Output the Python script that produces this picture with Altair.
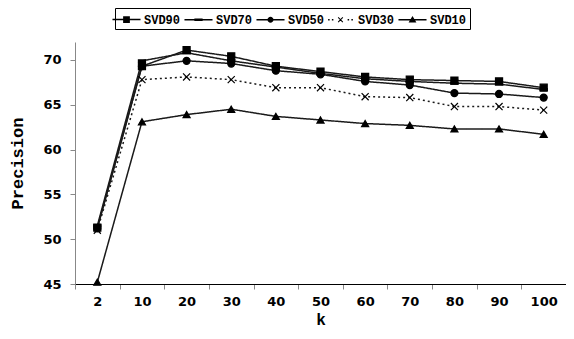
import altair as alt
import pandas as pd

k_labels = ["2", "10", "20", "30", "40", "50", "60", "70", "80", "90", "100"]
series_names = ["SVD90", "SVD70", "SVD50", "SVD30", "SVD10"]
svd90 = [51.3, 69.3, 71.1, 70.4, 69.3, 68.7, 68.1, 67.8, 67.7, 67.6, 66.9]
svd70 = [51.5, 69.9, 70.8, 69.9, 69.2, 68.5, 67.9, 67.6, 67.4, 67.3, 66.7]
svd50 = [51.2, 69.3, 69.9, 69.6, 68.8, 68.4, 67.6, 67.2, 66.3, 66.2, 65.8]
svd30 = [51.0, 67.8, 68.1, 67.8, 66.9, 66.9, 65.9, 65.8, 64.8, 64.8, 64.4]
svd10 = [45.2, 63.1, 63.9, 64.5, 63.7, 63.3, 62.9, 62.7, 62.3, 62.3, 61.7]

rows = []
for name, vals in zip(series_names, [svd90, svd70, svd50, svd30, svd10]):
    for kk, v in zip(k_labels, vals):
        rows.append({"k": kk, "Precision": v, "series": name, "series_pt": name})
df = pd.DataFrame(rows)

MONO = "Liberation Mono, Courier New, Courier, monospace"

# plot marker shapes
plot_shapes = [
    "square",
    "M-1,-0.25H1V0.25H-1Z",
    "circle",
    "M-1,-1L1,1M-1,1L1,-1",
    "triangle-up",
]
# legend symbols (fill only): line + marker, unit = 7.5px, line spans 28px
LINE = "M-1.87,-0.1H1.87V0.1H-1.87Z"
legend_shapes = [
    LINE + "M-0.45,-0.45H0.45V0.45H-0.45Z",
    LINE + "M-0.55,-0.16H0.55V0.16H-0.55Z",
    LINE + "M-0.4,0A0.4,0.4 0 1,1 0.4,0A0.4,0.4 0 1,1 -0.4,0Z",
    "M-1.65,-0.1H-1.45V0.1H-1.65Z"
    "M-1.15,-0.1H-0.95V0.1H-1.15Z"
    "M-0.36,-0.26L-0.26,-0.36L0.36,0.26L0.26,0.36Z"
    "M0.26,-0.36L0.36,-0.26L-0.26,0.36L-0.36,0.26Z"
    "M0.95,-0.1H1.15V0.1H0.95Z"
    "M1.45,-0.1H1.65V0.1H1.45Z",
    LINE + "M0,-0.5L0.52,0.35H-0.52Z",
]

x_enc = alt.X(
    "k:O",
    sort=k_labels,
    bandPosition=0.5,
    scale=alt.Scale(type="band", paddingInner=0, paddingOuter=0),
    axis=alt.Axis(
        title="k",
        labelAngle=0,
        tickBand="extent",
        tickColor="#888888",
        tickSize=5,
        domainColor="#000000",
        labelFont="DejaVu Sans",
        labelFontWeight="bold",
        labelFontSize=13,
        labelPadding=6,
        titleFont=MONO,
        titleFontWeight="bold",
        titleFontSize=16,
        titlePadding=3,
    ),
)
y_enc = alt.Y(
    "Precision:Q",
    scale=alt.Scale(domain=[45, 72], nice=False, zero=False),
    axis=alt.Axis(
        title="Precision",
        values=[45, 50, 55, 60, 65, 70],
        grid=False,
        tickColor="#888888",
        tickSize=5,
        domainColor="#888888",
        labelFont="DejaVu Sans",
        labelFontWeight="bold",
        labelFontSize=13,
        labelPadding=9,
        titleFont=MONO,
        titleFontWeight="bold",
        titleFontSize=17,
        titlePadding=16,
    ),
)

lines = alt.Chart(df).mark_line(strokeWidth=1.5, color="#1a1a1a").encode(
    x=x_enc,
    y=y_enc,
    detail="series:N",
    strokeDash=alt.StrokeDash(
        "series:N",
        scale=alt.Scale(domain=series_names, range=[[1, 0], [1, 0], [1, 0], [2, 3], [1, 0]]),
        legend=None,
    ),
)

points = alt.Chart(df).mark_point(filled=True, color="#000000", stroke="#000000", strokeWidth=1.2, opacity=1, size=50).encode(
    x=x_enc,
    y=y_enc,
    shape=alt.Shape("series_pt:N", scale=alt.Scale(domain=series_names, range=plot_shapes), legend=None),
)

legend_layer = alt.Chart(df).mark_point(filled=True, color="#000000", opacity=0).encode(
    x=x_enc,
    y=y_enc,
    shape=alt.Shape(
        "series:N",
        scale=alt.Scale(domain=series_names, range=legend_shapes),
        legend=alt.Legend(
            title=None,
            orient="none",
            legendX=40,
            legendY=-34,
            direction="horizontal",
            columns=5,
            symbolSize=225,
            symbolOpacity=1,
            symbolFillColor="#000000",
            labelFont=MONO,
            labelFontWeight="bold",
            labelFontSize=12,
            labelOffset=9,
            columnPadding=0,
            padding=3,
            strokeColor="#000000",
            fillColor="#ffffff",
        ),
    ),
)

chart = (
    alt.layer(lines, points, legend_layer)
    .resolve_scale(shape="independent")
    .resolve_legend(shape="independent")
    .properties(
        width=491,
        height=242,
        autosize=alt.AutoSizeParams(type="none"),
        padding={"left": 67, "top": 34, "right": 0, "bottom": 46},
    )
    .configure_view(stroke=None)
)

chart.save("out.html", embed_options={"renderer": "svg", "actions": False})
